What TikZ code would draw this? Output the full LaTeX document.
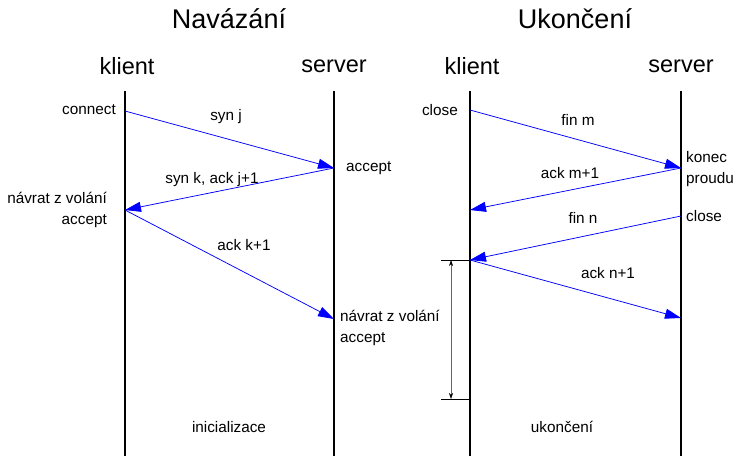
\documentclass[tikz,border=0pt]{standalone}
\usepackage{fontspec}
\setmainfont{Liberation Sans}
\usetikzlibrary{arrows.meta,positioning}
\tikzset{
  zivot/.style={line width=1.6pt},
  zprava/.style={blue, line width=0.75pt, -{Triangle[length=16pt,width=10pt]}},
  popis/.style={font=\fontsize{15.3}{21}\selectfont, inner sep=0pt},
  nadpis/.style={font=\fontsize{27}{30}\selectfont},
  strana/.style={font=\fontsize{23.5}{26}\selectfont},
  mira/.style={line width=0.6pt},
}
\begin{document}
\begin{tikzpicture}[x=1pt,y=-1pt]
  \useasboundingbox (0,0) rectangle (735,456);

  % Nadpisy
  \node[nadpis] (navazani) at (229,19) {Navázání};
  \node[nadpis] (ukonceni) at (575,19) {Ukončení};

  % Klient a server
  \foreach \jm/\x/\txt in {k1/127/klient, s1/334/server, k2/472/klient, s2/681/server}
    \node[strana] (\jm) at (\x,66) {\txt};

  % Časové osy
  \foreach \jm/\x in {a/125, b/334, c/470, d/681} {
    \coordinate (\jm0) at (\x,91);
    \coordinate (\jm9) at (\x,456);
    \draw[zivot] (\jm0) -- (\jm9);
  }

  % Navázání spojení
  \coordinate (a1) at (125,111);
  \coordinate (b1) at (334,168);
  \coordinate (a2) at (125,210);
  \coordinate (b2) at (334,319);
  \draw[zprava] (a1) -- (b1);
  \draw[zprava] (b1) -- (a2);
  \draw[zprava] (a2) -- (b2);
  \node[popis] (synj) at (226,117) {syn j};
  \node[popis] (synk) at (212,180) {syn k, ack j+1};
  \node[popis] (ackk) at (244,245) {ack k+1};
  \node[popis, anchor=east] (connect) at (116,110) {connect};
  \node[popis, anchor=west] (accept) at (346,168) {accept};
  \node[popis, anchor=east, align=right] (navrat1) at (107,210) {návrat z volání\\accept};
  \node[popis, anchor=west, align=left] (navrat2) at (340,328) {návrat z volání\\accept};

  % Ukončení spojení
  \coordinate (c1) at (470,110);
  \coordinate (d1) at (681,168);
  \coordinate (c2) at (470,210);
  \coordinate (d2) at (681,216);
  \coordinate (c3) at (470,260);
  \coordinate (d3) at (681,318);
  \draw[zprava] (c1) -- (d1);
  \draw[zprava] (d1) -- (c2);
  \draw[zprava] (d2) -- (c3);
  \draw[zprava] (c3) -- (d3);
  \node[popis] (finm) at (578,120) {fin m};
  \node[popis] (ackm) at (570,173) {ack m+1};
  \node[popis] (finn) at (583,218) {fin n};
  \node[popis] (ackn) at (608,273) {ack n+1};
  \node[popis, anchor=east] (close1) at (458,110) {close};
  \node[popis, anchor=west, align=left] (konec) at (686,169) {konec\\proudu};
  \node[popis, anchor=west] (close2) at (686,216) {close};

  % Doba ukončování
  \coordinate (h1) at (441,260);
  \coordinate (h2) at (441,399);
  \coordinate (c4) at (470,399);
  \coordinate (m1) at (451,260);
  \coordinate (m2) at (451,399);
  \draw[mira] (h1) -- (c3);
  \draw[mira] (h2) -- (c4);
  \draw[mira, black!60, {Stealth[length=6pt,width=4pt,black]}-{Stealth[length=6pt,width=4pt,black]}] (m1) -- (m2);

  % Popisky dole
  \node[popis] (inicializace) at (229,427) {inicializace};
  \node[popis] (ukoncovani) at (562,427) {ukončení};
\end{tikzpicture}
\end{document}
